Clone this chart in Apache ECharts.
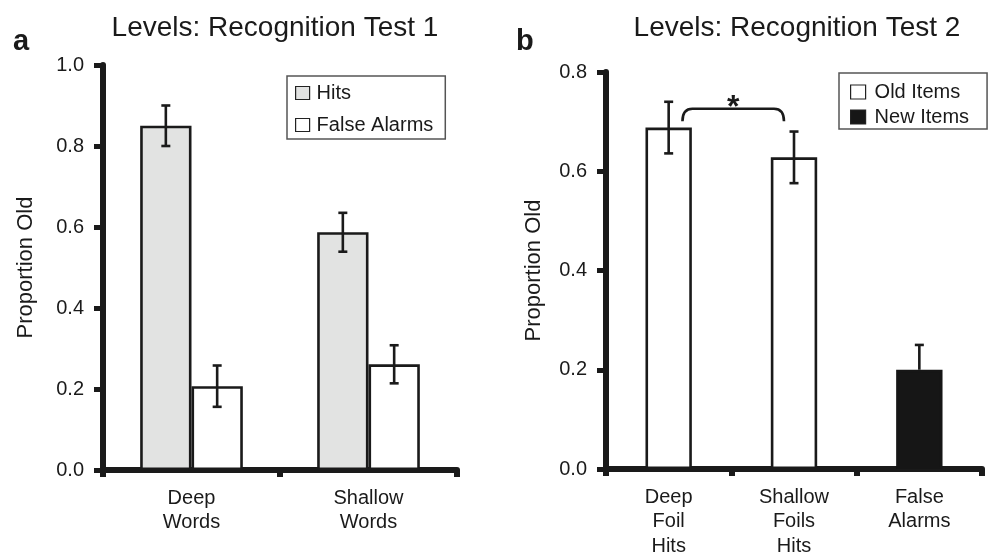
<!DOCTYPE html>
<html>
<head>
<meta charset="utf-8">
<script src="https://cdn.jsdelivr.net/npm/echarts@6/dist/echarts.min.js"></script>
<style>
html,body{margin:0;padding:0;background:#fff;}
#chart{width:989px;height:553px;}
</style>
</head>
<body>
<div id="chart"></div>
<script>
// ---------- Panel a data ----------
var catsA = ['Deep\nWords', 'Shallow\nWords'];
var hitsA = [0.85, 0.587];
var hitsErrA = [0.05, 0.048];
var faA = [0.207, 0.261];
var faErrA = [0.051, 0.047];
var ticksA = [0, 0.2, 0.4, 0.6, 0.8, 1.0];

// ---------- Panel b data ----------
var catsB = ['Deep\nFoil\nHits', 'Shallow\nFoils\nHits', 'False\nAlarms'];
var oldB = [0.688, 0.628, null];
var oldErrB = [0.052, 0.052, null];
var newB = [null, null, 0.2];
var newErrB = [null, null, 0.05];
var ticksB = [0, 0.2, 0.4, 0.6, 0.8];
var sigPair = [0, 1];       // categories joined by significance bracket
var sigLevel = 0.726;       // bracket top value
var sigMark = '*';

var FONT = "'Liberation Sans', Arial, Helvetica, sans-serif";
var INK = '#1a1a1a';

function errData(vals, errs, showLow) {
  var out = [];
  for (var i = 0; i < vals.length; i++) {
    if (vals[i] == null || errs[i] == null) continue;
    out.push([i, showLow ? vals[i] - errs[i] : vals[i], vals[i] + errs[i], showLow ? 1 : 0]);
  }
  return out;
}

function errSeries(axisIdx, data, offsetFrac) {
  return {
    type: 'custom',
    xAxisIndex: axisIdx, yAxisIndex: axisIdx,
    z: 5, silent: true,
    data: data,
    renderItem: function (params, api) {
      var i = api.value(0), lo = api.value(1), hi = api.value(2), showLow = api.value(3);
      var band = api.size([1, 0])[0];
      var x = api.coord([i, lo])[0] + offsetFrac * band;
      var yl = api.coord([i, lo])[1], yh = api.coord([i, hi])[1];
      var cw = 4.5;
      var st = { stroke: INK, lineWidth: 2.6 };
      var ch = [
        { type: 'line', shape: { x1: x, y1: yl, x2: x, y2: yh }, style: st },
        { type: 'line', shape: { x1: x - cw, y1: yh, x2: x + cw, y2: yh }, style: st }
      ];
      if (showLow) ch.push({ type: 'line', shape: { x1: x - cw, y1: yl, x2: x + cw, y2: yl }, style: st });
      return { type: 'group', children: ch };
    }
  };
}

function yAxisCfg(gridIdx, max, nameGap) {
  return {
    type: 'value', gridIndex: gridIdx, min: 0, max: max, interval: 0.2,
    name: 'Proportion Old', nameLocation: 'middle', nameGap: nameGap,
    nameTextStyle: { fontFamily: FONT, fontSize: 22, color: INK },
    axisLine: { show: true, lineStyle: { color: INK, width: 6 } },
    axisTick: { show: true, length: 9, lineStyle: { color: INK, width: 5 } },
    axisLabel: { fontFamily: FONT, fontSize: 20, color: INK, margin: 19,
      formatter: function (v) { return v.toFixed(1); } },
    splitLine: { show: false }
  };
}

function xAxisCfg(gridIdx, cats) {
  return {
    type: 'category', gridIndex: gridIdx, data: cats,
    axisLine: { show: true, lineStyle: { color: INK, width: 6 } },
    axisTick: { show: true, length: 7, lineStyle: { color: INK, width: 6 } },
    axisLabel: { fontFamily: FONT, fontSize: 20, color: INK, margin: 16, lineHeight: 24.5, interval: 0 },
    splitLine: { show: false }
  };
}

var chart = echarts.init(document.getElementById('chart'), null, { renderer: 'canvas' });

var option = {
  animation: false,
  backgroundColor: '#fff',
  title: [
    { text: 'Levels: Recognition Test 1', left: 275, top: 14, textAlign: 'center', padding: 0,
      textStyle: { fontFamily: FONT, fontSize: 28, fontWeight: 'normal', color: INK } },
    { text: 'Levels: Recognition Test 2', left: 797, top: 14, textAlign: 'center', padding: 0,
      textStyle: { fontFamily: FONT, fontSize: 28, fontWeight: 'normal', color: INK } },
    { text: 'a', left: 13, top: 27, padding: 0,
      textStyle: { fontFamily: FONT, fontSize: 29, fontWeight: 'bold', color: INK } },
    { text: 'b', left: 516, top: 27, padding: 0,
      textStyle: { fontFamily: FONT, fontSize: 29, fontWeight: 'bold', color: INK } }
  ],
  legend: [
    { data: ['Hits', 'False Alarms'], orient: 'vertical', left: 287, top: 76,
      padding: [7, 12, 4, 8], itemGap: 12, itemWidth: 14, itemHeight: 13, icon: 'rect',
      borderColor: '#555', borderWidth: 1.5, backgroundColor: '#fff',
      itemStyle: { borderColor: '#222', borderWidth: 1.2 },
      textStyle: { fontFamily: FONT, fontSize: 20, color: INK, padding: [0, 0, 0, 2] } },
    { data: ['Old Items', 'New Items'], orient: 'vertical', left: 839, top: 73,
      padding: [9, 18, 2, 11], itemGap: 5, itemWidth: 15, itemHeight: 14, icon: 'rect',
      borderColor: '#555', borderWidth: 1.5, backgroundColor: '#fff',
      itemStyle: { borderColor: '#222', borderWidth: 1.2 },
      textStyle: { fontFamily: FONT, fontSize: 20, color: INK, padding: [0, 0, 0, 4] } }
  ],
  grid: [
    { left: 103, right: 532, top: 65, bottom: 83, containLabel: false, outerBoundsMode: 'none' },
    { left: 606, right: 7, top: 72, bottom: 84, containLabel: false, outerBoundsMode: 'none' }
  ],
  xAxis: [xAxisCfg(0, catsA), xAxisCfg(1, catsB)],
  yAxis: [yAxisCfg(0, 1.0, 66), yAxisCfg(1, 0.8, 61)],
  series: [
    { name: 'Hits', type: 'bar', xAxisIndex: 0, yAxisIndex: 0, data: hitsA,
      barWidth: '29%', barGap: '0%',
      itemStyle: { color: '#e2e3e2', borderColor: INK, borderWidth: 2.6 } },
    { name: 'False Alarms', type: 'bar', xAxisIndex: 0, yAxisIndex: 0, data: faA,
      barWidth: '29%', barGap: '0%',
      itemStyle: { color: '#ffffff', borderColor: INK, borderWidth: 2.6 } },
    { name: 'Old Items', type: 'bar', xAxisIndex: 1, yAxisIndex: 1,
      data: oldB.map(function (v) { return v == null ? '-' : v; }),
      barWidth: '37%', barGap: '-100%',
      itemStyle: { color: '#ffffff', borderColor: INK, borderWidth: 2.6 } },
    { name: 'New Items', type: 'bar', xAxisIndex: 1, yAxisIndex: 1,
      data: newB.map(function (v) { return v == null ? '-' : v; }),
      barWidth: '37%', barGap: '-100%',
      itemStyle: { color: '#161616', borderColor: '#161616', borderWidth: 2.6 } },
    errSeries(0, errData(hitsA, hitsErrA, true), -0.145),
    errSeries(0, errData(faA, faErrA, true), 0.145),
    errSeries(1, errData(oldB, oldErrB, true), 0),
    errSeries(1, errData(newB, newErrB, false), 0),
    {
      type: 'custom', xAxisIndex: 1, yAxisIndex: 1, z: 6, silent: true,
      data: [[sigPair[0], sigPair[1], sigLevel]],
      renderItem: function (params, api) {
        var band = api.size([1, 0])[0];
        var x1 = api.coord([api.value(0), 0])[0] + 0.11 * band;
        var x2 = api.coord([api.value(1), 0])[0] - 0.08 * band;
        var yt = api.coord([0, api.value(2)])[1];
        var yb = yt + 12.5, r = 10;
        var d = 'M' + x1 + ' ' + yb + ' Q' + x1 + ' ' + yt + ' ' + (x1 + r) + ' ' + yt +
                ' L' + (x2 - r) + ' ' + yt + ' Q' + x2 + ' ' + yt + ' ' + x2 + ' ' + yb;
        return { type: 'group', children: [
          { type: 'path', shape: { pathData: d }, style: { stroke: INK, lineWidth: 2.6, fill: null } },
          { type: 'text', x: (x1 + x2) / 2, y: yt - 1,
            style: { text: sigMark, font: 'bold 32px ' + FONT, fill: INK, align: 'center', verticalAlign: 'middle' } }
        ] };
      }
    }
  ]
};
chart.setOption(option);
</script>
</body>
</html>
